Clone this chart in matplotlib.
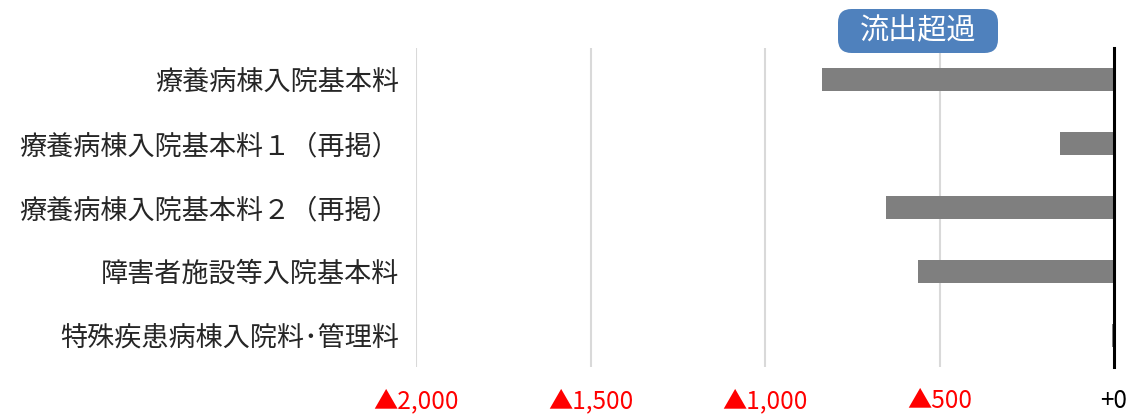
import matplotlib.pyplot as plt
from matplotlib.patches import FancyBboxPatch

plt.rcParams['font.family'] = ['Noto Sans CJK JP', 'DejaVu Sans']

categories = ['療養病棟入院基本料', '療養病棟入院基本料１（再掲）', '療養病棟入院基本料２（再掲）',
              '障害者施設等入院基本料', '特殊疾患病棟入院料･管理料']
values = [-836, -154, -652, -563, -6]
ticks = [-2000, -1500, -1000, -500, 0]
tick_labels = ['▲2,000', '▲1,500', '▲1,000', '▲500', '+0']

W, H = 1132, 415
fig = plt.figure(figsize=(W / 100, H / 100), dpi=100)
ax = fig.add_axes([416 / W, 48 / H, (1114 - 416) / W, (367 - 48) / H])

y = list(range(len(categories)))
ax.barh(y, values, height=0.36, color='#7f7f7f', zorder=3)
ax.set_ylim(len(categories) - 0.5, -0.5)
ax.set_xlim(-2000, 0)

ax.set_yticks(y)
ax.set_yticklabels(categories, fontsize=19.5, color='#262626')
ax.set_xticks(ticks)
ax.set_xticklabels(tick_labels, fontsize=17.5)
for lab, t in zip(ax.get_xticklabels(), ticks):
    lab.set_color('red' if t < 0 else 'black')

ax.tick_params(axis='both', length=0)
ax.tick_params(axis='y', pad=12)
ax.tick_params(axis='x', pad=15)

for t in ticks[:-1]:
    ax.axvline(t, color='#d9d9d9', lw=1.5, zorder=1)
ax.axvline(0, color='black', lw=2.2, zorder=4, clip_on=False)

for s in ax.spines.values():
    s.set_visible(False)

# "流出超過" label box
bx0, bx1, by0, by1 = 838, 998, 9, 53
box = FancyBboxPatch((bx0 / W, 1 - by1 / H), (bx1 - bx0) / W, (by1 - by0) / H,
                     boxstyle='round,pad=0,rounding_size=0.012', transform=fig.transFigure,
                     facecolor='#4f81bd', edgecolor='none', mutation_aspect=W / H)
fig.patches.append(box)
fig.text((bx0 + bx1) / 2 / W, 1 - (by0 + by1) / 2 / H, '流出超過', ha='center', va='center',
         fontsize=21, color='white')

fig.savefig('out.png', dpi=100)
